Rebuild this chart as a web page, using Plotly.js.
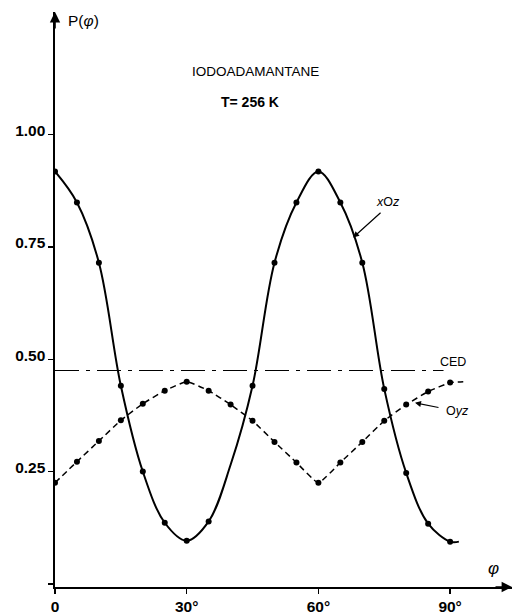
<!DOCTYPE html>
<html>
<head>
<meta charset="utf-8">
<script src="https://cdn.plot.ly/plotly-3.0.1.min.js"></script>
<style>html,body{margin:0;padding:0;background:#fff;}#chart{width:512px;height:616px;}</style>
</head>
<body>
<div id="chart"></div>
<script>
// angle phi (degrees)
const phi = [0,5,10,15,20,25,30,35,40,45,50,55,60,65,70,75,80,85,90];
// P(phi) in the xOz plane
const xOz = [0.918,0.849,0.715,0.441,0.250,0.136,0.096,0.139,0.265,0.441,0.715,0.849,0.918,0.849,0.715,0.434,0.247,0.134,0.094];
// P(phi) in the Oyz plane
const Oyz = [0.225,0.272,0.318,0.364,0.401,0.430,0.450,0.430,0.399,0.363,0.316,0.270,0.225,0.270,0.316,0.363,0.399,0.428,0.448];
// angles where the xOz curve has no dot drawn
const xOzNoDot = [40];
// short tails beyond the last point
const xOzTail = {phi: 92, p: 0.094};
const OyzTail = {phi: 93, p: 0.450};
// CED level
const cedPhi = [0, 88.5];
const ced = [0.475, 0.475];
// ticks
const xTickVals = [0,30,60,90];
const xTickText = ['0','30°','60°','90°'];
const yTickVals = [0,0.25,0.5,0.75,1.0];
const yTickText = ['','0.25','0.50','0.75','1.00'];

const XMAX = 104.1, YMIN = -0.007, YMAX = 1.273;
const black = '#000';
const F = 'Liberation Sans, Arial, Helvetica, sans-serif';

const xOzMarkPhi = phi.filter(p => !xOzNoDot.includes(p));
const xOzMarkVal = xOz.filter((v,i)=>!xOzNoDot.includes(phi[i]));

const traces = [
  {x: cedPhi, y: ced, mode:'lines', line:{color:black, width:1.1, dash:'24px,7px,4px,7px'}, hoverinfo:'skip'},
  {x: phi.concat([OyzTail.phi]), y: Oyz.concat([OyzTail.p]), mode:'lines', line:{color:black, width:1.5, dash:'6px,4px', shape:'spline', smoothing:0.4}, hoverinfo:'skip'},
  {x: phi, y: Oyz, mode:'markers', marker:{color:black, size:6}},
  {x: phi.concat([xOzTail.phi]), y: xOz.concat([xOzTail.p]), mode:'lines', line:{color:black, width:2, shape:'spline', smoothing:1}, hoverinfo:'skip'},
  {x: xOzMarkPhi, y: xOzMarkVal, mode:'markers', marker:{color:black, size:6}}
];

const layout = {
  width:512, height:616,
  margin:{l:55, r:0, t:12, b:29},
  paper_bgcolor:'#fff', plot_bgcolor:'#fff',
  showlegend:false,
  font:{family:F, color:black},
  xaxis:{range:[0,XMAX], showgrid:false, zeroline:false, showline:true, linecolor:black, linewidth:1.6,
    ticks:'outside', ticklen:5, tickwidth:1.5, tickcolor:black,
    tickvals:xTickVals, ticktext:xTickText.map(t=>'<b>'+t+'</b>'), tickfont:{size:15.5, family:F, color:black}},
  yaxis:{range:[YMIN,YMAX], showgrid:false, zeroline:false, showline:true, linecolor:black, linewidth:1.6,
    ticks:'outside', ticklen:5, tickwidth:1.5, tickcolor:black,
    tickvals:yTickVals, ticktext:yTickText.map(t=>'<b>'+t+'</b>'), tickfont:{size:15.5, family:F, color:black},
    ticklabelshift:-4, ticklabelstandoff:0},
  annotations:[
    // axis arrowheads
    {x:0, y:YMAX, xref:'x', yref:'y', ax:0, ay:18, showarrow:true, arrowhead:2, arrowsize:1.3, arrowwidth:1.6, arrowcolor:black, text:''},
    {x:XMAX, y:YMIN, xref:'x', yref:'y', ax:-18, ay:0, showarrow:true, arrowhead:2, arrowsize:1.3, arrowwidth:1.6, arrowcolor:black, text:''},
    {x:6.4, y:1.255, xref:'x', yref:'y', text:'P(<i>φ</i>)', showarrow:false, font:{size:15.5, family:F}},
    {x:99.8, y:0.035, xref:'x', yref:'y', text:'<i>φ</i>', showarrow:false, font:{size:17, family:F}},
    {x:45.6, y:1.140, xref:'x', yref:'y', text:'IODOADAMANTANE', showarrow:false, font:{size:13.5, family:F}},
    {x:44.5, y:1.073, xref:'x', yref:'y', text:'<b>T= 256 K</b>', showarrow:false, font:{size:14, family:F}},
    {x:75.9, y:0.849, xref:'x', yref:'y', text:'<i>x</i>O<i>z</i>', showarrow:false, font:{size:12.5, family:F}},
    {x:67.9, y:0.771, xref:'x', yref:'y', axref:'x', ayref:'y', ax:74.5, ay:0.829, text:'', showarrow:true, arrowhead:2, arrowsize:1, arrowwidth:1.2, arrowcolor:black},
    {x:90.7, y:0.493, xref:'x', yref:'y', text:'CED', showarrow:false, font:{size:12.5, family:F}},
    {x:91.6, y:0.384, xref:'x', yref:'y', text:'O<i>yz</i>', showarrow:false, font:{size:12.5, family:F}},
    {x:82.0, y:0.403, xref:'x', yref:'y', axref:'x', ayref:'y', ax:87.7, ay:0.392, text:'', showarrow:true, arrowhead:2, arrowsize:1, arrowwidth:1.2, arrowcolor:black}
  ]
};

Plotly.newPlot('chart', traces, layout, {staticPlot:true, displayModeBar:false});
</script>
</body>
</html>
